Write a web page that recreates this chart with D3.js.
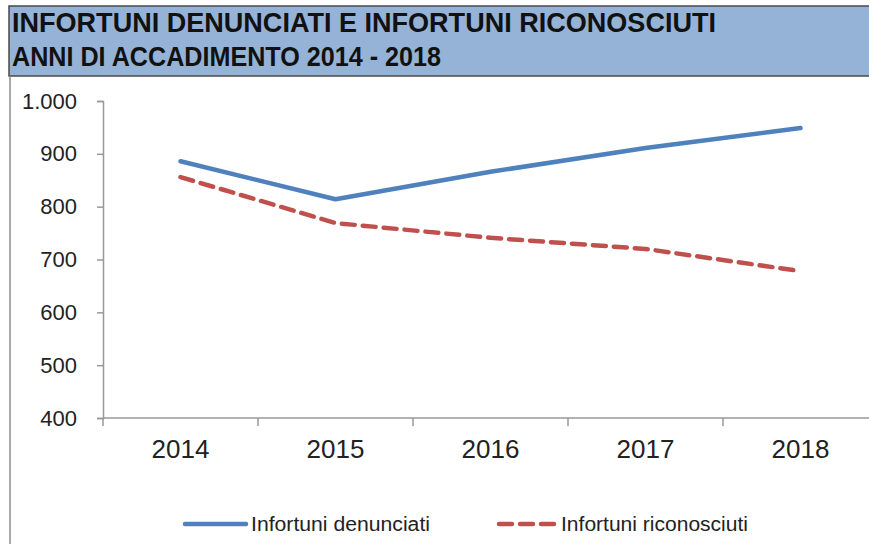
<!DOCTYPE html>
<html>
<head>
<meta charset="utf-8">
<script src="https://cdn.jsdelivr.net/npm/d3@7"></script>
<style>
  html, body { margin: 0; padding: 0; background: #fff; }
  svg { display: block; }
</style>
</head>
<body>
<div id="chart"></div>
<script>
// Infortuni denunciati vs riconosciuti, anni 2014-2018

const anni = ["2014", "2015", "2016", "2017", "2018"];
const denunciati = [886, 814, 866, 911, 949];
const riconosciuti = [856, 769, 741, 720, 678];
const yTicks = [400, 500, 600, 700, 800, 900, 1000];
const titolo = ["INFORTUNI DENUNCIATI E INFORTUNI RICONOSCIUTI", "ANNI DI ACCADIMENTO 2014 - 2018"];
const serieNomi = ["Infortuni denunciati", "Infortuni riconosciuti"];

const W = 869, H = 544;
const M = { top: 101, right: -9, bottom: 126, left: 103 };

const svg = d3.select("#chart").append("svg").attr("width", W).attr("height", H);

// banda titolo
svg.append("rect")
  .attr("x", 9).attr("y", 6).attr("width", W).attr("height", 70)
  .attr("fill", "#95b3d7").attr("stroke", "#4a4a4a").attr("stroke-width", 1.5);

const titleFont = "'Liberation Sans Narrow', 'Arial Narrow', 'Liberation Sans', Arial, sans-serif";
svg.append("text").attr("x", 12).attr("y", 32)
  .attr("textLength", 704).attr("lengthAdjust", "spacingAndGlyphs")
  .style("font-family", titleFont).style("font-weight", "700").style("font-size", "28px")
  .style("fill", "#111").text(titolo[0]);
svg.append("text").attr("x", 12).attr("y", 66)
  .attr("textLength", 429).attr("lengthAdjust", "spacingAndGlyphs")
  .style("font-family", titleFont).style("font-weight", "700").style("font-size", "28px")
  .style("fill", "#111").text(titolo[1]);

// bordo sinistro area grafico
svg.append("line").attr("x1", 10).attr("x2", 10).attr("y1", 76).attr("y2", H)
  .attr("stroke", "#8c8c8c").attr("stroke-width", 1.5);

const x = d3.scaleBand().domain(anni).range([M.left, 878]);
const y = d3.scaleLinear().domain([400, 1000]).range([418, M.top]);

const font = "'Liberation Sans', Arial, sans-serif";

// asse Y
const gy = svg.append("g").attr("transform", `translate(${M.left},0)`)
  .call(d3.axisLeft(y).tickValues(yTicks).tickSize(6).tickPadding(20)
    .tickFormat(d => d3.format(",")(d).replace(",", ".")));
gy.select(".domain").attr("stroke", "#999").attr("stroke-width", 1.5);
gy.selectAll(".tick line").attr("stroke", "#999").attr("stroke-width", 1.5);
gy.selectAll(".tick text").style("font-family", font).style("font-size", "22px").style("fill", "#222");

// asse X
const gx = svg.append("g").attr("transform", `translate(0,418)`)
  .call(d3.axisBottom(x).tickSize(0).tickPadding(22));
gx.select(".domain").attr("d", `M${M.left},0H${W}`).attr("stroke", "#999").attr("stroke-width", 1.5);
gx.selectAll(".tick text").style("font-family", font).style("font-size", "26px").style("fill", "#222");
// tacche tra le categorie
gx.selectAll("line.sep").data(anni).enter().append("line").attr("class", "sep")
  .attr("x1", d => x(d)).attr("x2", d => x(d)).attr("y1", 0).attr("y2", 8)
  .attr("stroke", "#999").attr("stroke-width", 1.5);

const cx = d => x(d) + x.bandwidth() / 2;
const line = d3.line().x((d, i) => cx(anni[i])).y(d => y(d));

svg.append("path").datum(denunciati).attr("d", line)
  .attr("fill", "none").attr("stroke", "#4f81bd").attr("stroke-width", 4.5)
  .attr("stroke-linecap", "round").attr("stroke-linejoin", "round");
svg.append("path").datum(riconosciuti).attr("d", line)
  .attr("fill", "none").attr("stroke", "#c0504d").attr("stroke-width", 4.5)
  .attr("stroke-dasharray", "13,8").attr("stroke-linecap", "round");

// legenda
const leg = [
  { nome: serieNomi[0], colore: "#4f81bd", dash: null, x0: 185, x1: 246, tx: 251 },
  { nome: serieNomi[1], colore: "#c0504d", dash: "13,8", x0: 499, x1: 554, tx: 561 }
];
leg.forEach(l => {
  svg.append("line").attr("x1", l.x0).attr("x2", l.x1).attr("y1", 524).attr("y2", 524)
    .attr("stroke", l.colore).attr("stroke-width", 4.5).attr("stroke-linecap", "round")
    .attr("stroke-dasharray", l.dash);
  svg.append("text").attr("x", l.tx).attr("y", 524).attr("dy", "0.35em")
    .attr("textLength", l.nome === serieNomi[0] ? 179 : 187).attr("lengthAdjust", "spacingAndGlyphs")
    .style("font-family", font).style("font-size", "20px").style("fill", "#222").text(l.nome);
});
</script>
</body>
</html>
